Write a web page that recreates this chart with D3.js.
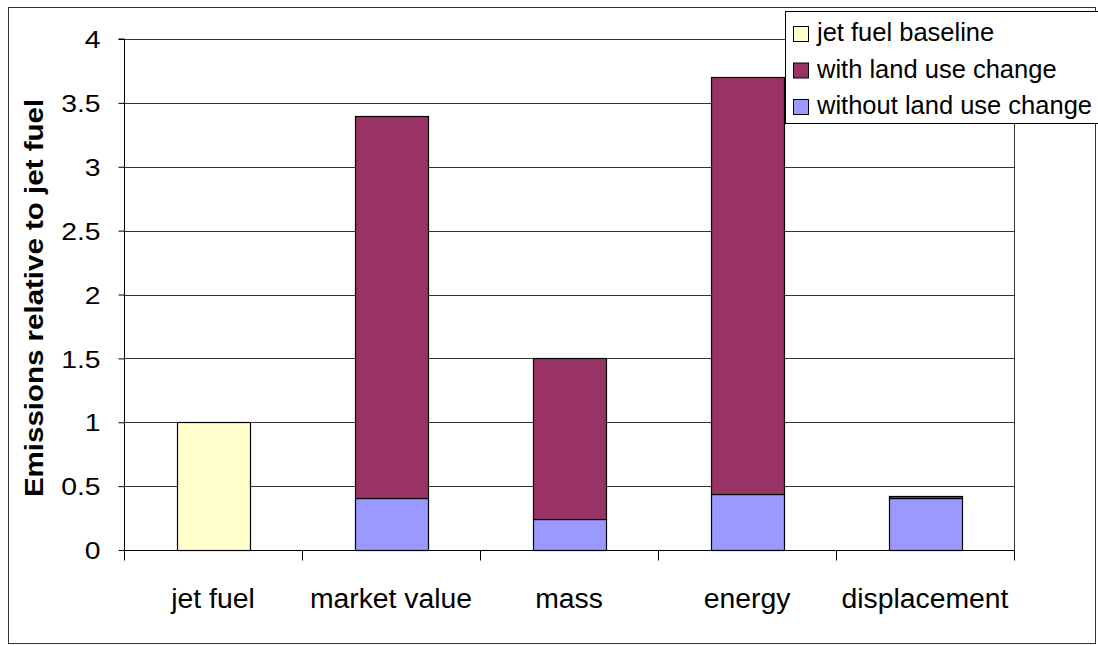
<!DOCTYPE html>
<html>
<head>
<meta charset="utf-8">
<script src="https://cdn.jsdelivr.net/npm/d3@7"></script>
<style>
  html, body { margin: 0; padding: 0; background: #fff; }
  svg { display: block; font-family: "Liberation Sans", Arial, sans-serif; }
</style>
</head>
<body>
<svg id="chart" width="1098" height="646"></svg>
<script>
// ---- data ----
const categories = ["jet fuel", "market value", "mass", "energy", "displacement"];
const jetFuelBaseline = [1.0, 0, 0, 0, 0];
const withoutLandUseChange = [0, 0.41, 0.24, 0.44, 0.41];
const withLandUseChangeTotal = [0, 3.40, 1.50, 3.70, 0.42];
const yTicks = [0, 0.5, 1, 1.5, 2, 2.5, 3, 3.5, 4];
const yTickLabels = ["0", "0.5", "1", "1.5", "2", "2.5", "3", "3.5", "4"];
const seriesNames = ["jet fuel baseline", "with land use change", "without land use change"];
const seriesColors = ["#FFFFCC", "#993366", "#9999FF"];
const yTitle = "Emissions relative to jet fuel";

// ---- layout ----
const svg = d3.select("#chart");
const plot = { left: 124, right: 1014, top: 39, bottom: 550 };

const x = d3.scaleBand().domain(categories).range([plot.left, plot.right]).paddingInner(0.59).paddingOuter(0.295);
const y = d3.scaleLinear().domain([0, 4]).range([plot.bottom, plot.top]);

// outer frame
svg.append("rect").attr("x", 8.5).attr("y", 7.5).attr("width", 1087).attr("height", 636)
  .attr("fill", "#fff").attr("stroke", "#333").attr("stroke-width", 1);

// gridlines
svg.append("g").selectAll("line").data(yTicks.filter(d => d > 0)).join("line")
  .attr("x1", plot.left).attr("x2", plot.right)
  .attr("y1", d => Math.round(y(d)) + 0.5).attr("y2", d => Math.round(y(d)) + 0.5)
  .attr("stroke", "#333").attr("stroke-width", 1);

// right plot border
svg.append("line").attr("x1", plot.right + 0.5).attr("x2", plot.right + 0.5)
  .attr("y1", plot.top).attr("y2", plot.bottom + 10).attr("stroke", "#333");

// stacked data
const rows = categories.map((c, i) => ({
  cat: c,
  base: jetFuelBaseline[i],
  without: withoutLandUseChange[i],
  withInc: Math.max(0, withLandUseChangeTotal[i] - withoutLandUseChange[i])
}));
const stack = d3.stack().keys(["base", "without", "withInc"]);
const stacked = stack(rows);
const colorFor = { base: seriesColors[0], without: seriesColors[2], withInc: seriesColors[1] };

const bars = svg.append("g");
stacked.forEach(layer => {
  bars.append("g").selectAll("rect").data(layer.filter(d => d[1] - d[0] > 0)).join("rect")
    .attr("x", d => Math.round(x(d.data.cat)) + 0.5)
    .attr("width", Math.round(x.bandwidth()))
    .attr("y", d => Math.round(y(d[1])) + 0.5)
    .attr("height", d => Math.max(0.5, Math.round(y(d[0])) - Math.round(y(d[1]))))
    .attr("fill", colorFor[layer.key])
    .attr("stroke", "#000").attr("stroke-width", 1.2);
});

// y axis
const yAxis = d3.axisLeft(y).tickValues(yTicks).tickFormat((d, i) => yTickLabels[i]).tickSize(6).tickPadding(0);
const ya = svg.append("g").attr("transform", `translate(${plot.left + 0.5},0)`).call(yAxis);
ya.select(".domain").attr("stroke", "#000").attr("d", `M-6,${plot.top}H0V${plot.bottom}`);
ya.selectAll(".tick line").attr("stroke", "#000");
ya.selectAll(".tick text")
  .attr("font-size", 24).attr("fill", "#000")
  .attr("font-family", "Liberation Sans, Arial, sans-serif")
  .attr("x", -24 / 1.18).attr("dy", "0.36em")
  .attr("transform", "scale(1.18,1)");

// x axis
const xAxisG = svg.append("g").attr("transform", `translate(0,${plot.bottom + 0.5})`);
xAxisG.append("line").attr("x1", plot.left).attr("x2", plot.right).attr("stroke", "#000");
const bounds = d3.range(categories.length + 1).map(i => plot.left + i * (plot.right - plot.left) / categories.length);
xAxisG.selectAll("line.tk").data(bounds).join("line").attr("class", "tk")
  .attr("x1", d => Math.round(d) + 0.5).attr("x2", d => Math.round(d) + 0.5)
  .attr("y1", 0).attr("y2", 10).attr("stroke", "#000");
xAxisG.selectAll("text").data(categories).join("text")
  .attr("transform", d => `translate(${x(d) + x.bandwidth() / 2},57) scale(1.05,1)`)
  .attr("text-anchor", "middle").attr("font-size", 27).attr("fill", "#000")
  .text(d => d);

// y title
svg.append("text")
  .attr("transform", "translate(43,298) rotate(-90) scale(1.18,1)")
  .attr("text-anchor", "middle").attr("font-size", 25).attr("font-weight", "bold")
  .attr("fill", "#000").text(yTitle);

// legend
const lg = svg.append("g");
lg.append("rect").attr("x", 785.5).attr("y", 11.5).attr("width", 320).attr("height", 112)
  .attr("fill", "#fff").attr("stroke", "#000");
const legRows = lg.selectAll("g.row").data(seriesNames).join("g").attr("class", "row")
  .attr("transform", (d, i) => `translate(0,${i * 36.5})`);
legRows.append("rect").attr("x", 793.5).attr("y", 26.5).attr("width", 15).attr("height", 15)
  .attr("fill", (d, i) => seriesColors[i]).attr("stroke", "#000");
legRows.append("text").attr("x", 817).attr("y", 41).attr("font-size", 25.5).attr("fill", "#000")
  .text(d => d);
</script>
</body>
</html>
